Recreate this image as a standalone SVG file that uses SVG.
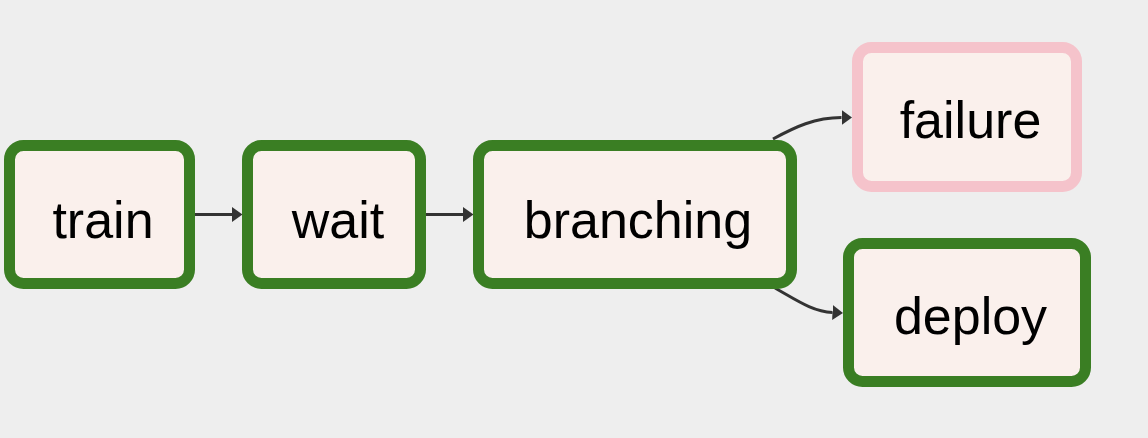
<svg xmlns="http://www.w3.org/2000/svg" width="1148" height="438" viewBox="0 0 1148 438">
<style>
.bg{fill:#eeeeee}
.node rect{fill:#faf0ec;stroke-width:11}
.ok rect{stroke:#3a7e23}
.fail rect{stroke:#f5c3cb}
.node text{font-family:"Liberation Sans",Arial,Helvetica,sans-serif;font-size:52px;fill:#000;text-anchor:middle}
.edge{fill:none;stroke:#333333;stroke-width:3}
</style>
<defs>
<marker id="arr" markerUnits="userSpaceOnUse" markerWidth="11" markerHeight="16" refX="0" refY="7.5" orient="auto" viewBox="0 0 11 16">
<path d="M0,0 L10.5,7.5 L0,15 z" fill="#333333"/>
</marker>
</defs>
<rect class="bg" x="0" y="0" width="1148" height="438"/>
<g id="connectors">
<path class="edge" d="M195,214.5 L232,214.5" marker-end="url(#arr)"/>
<path class="edge" d="M426,214.5 L463,214.5" marker-end="url(#arr)"/>
<path class="edge" d="M773,139 C795,127 815,117.5 841.5,117.5" marker-end="url(#arr)"/>
<path class="edge" d="M775,288 C795,299 812,311.5 832.5,312.5" marker-end="url(#arr)"/>
</g>
<g id="train" class="node ok">
<rect x="9.5" y="145.5" width="180" height="138" rx="14"/>
<text x="103" y="238">train</text>
</g>
<g id="wait" class="node ok">
<rect x="247.5" y="145.5" width="173" height="138" rx="14"/>
<text x="338" y="238">wait</text>
</g>
<g id="branching" class="node ok">
<rect x="478.5" y="145.5" width="313" height="138" rx="14"/>
<text x="638" y="237.5">branching</text>
</g>
<g id="failure" class="node fail">
<rect x="857.5" y="47.5" width="219" height="139" rx="14"/>
<text x="970.5" y="138">failure</text>
</g>
<g id="deploy" class="node ok">
<rect x="848.5" y="243.5" width="237" height="138" rx="14"/>
<text x="970.5" y="334">deploy</text>
</g>
</svg>
